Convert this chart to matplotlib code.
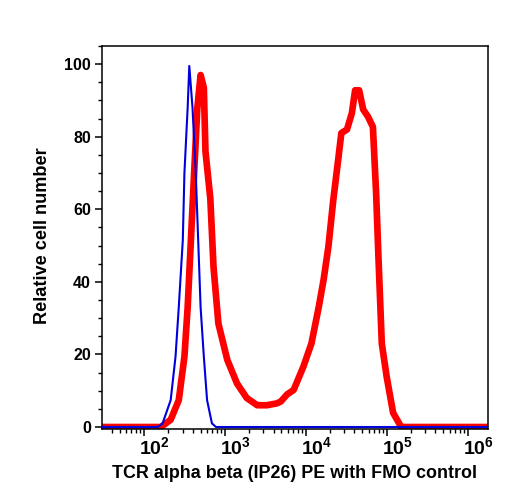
import matplotlib
matplotlib.use("Agg")
import matplotlib.pyplot as plt
import numpy as np
import matplotlib.transforms as mtransforms
from matplotlib.ticker import FixedLocator, LogLocator, NullFormatter, MultipleLocator

plt.rcParams['font.family'] = ['Liberation Sans', 'DejaVu Sans']
plt.rcParams['mathtext.fontset'] = 'custom'
plt.rcParams['mathtext.rm'] = 'Liberation Sans:bold'
plt.rcParams['mathtext.bf'] = 'Liberation Sans:bold'

# FMO control (blue): log10 intensity, relative count
fmo_log = [1.48, 2.0, 2.17, 2.23, 2.33, 2.39, 2.43, 2.48, 2.50, 2.54, 2.56, 2.60,
           2.64, 2.67, 2.70, 2.74, 2.78, 2.84, 2.89, 6.26]
fmo_val = [0, 0, 0, 1, 7.4, 19.4, 33, 51.5, 70, 88, 99.5, 88,
           70, 51.5, 33, 19.4, 7.4, 1, 0, 0]

# TCR alpha beta (red)
tcr_log = [1.48, 2.21, 2.33, 2.43, 2.50, 2.54, 2.58, 2.62, 2.66, 2.70, 2.74, 2.76,
           2.82, 2.86, 2.92, 3.03, 3.15, 3.27, 3.40, 3.52, 3.64, 3.69, 3.77, 3.85,
           3.97, 4.07, 4.16, 4.22, 4.28, 4.34, 4.40, 4.44, 4.51, 4.57, 4.61, 4.66,
           4.71, 4.77, 4.83, 4.87, 4.90, 4.94, 5.00, 5.08, 5.18, 6.26]
tcr_val = [0, 0, 2, 7.4, 19.4, 33, 51.5, 70, 88, 97, 93.5, 76,
           63, 44, 28.5, 18.5, 12, 8, 6, 6, 6.5, 7, 9, 10.2,
           16.6, 23, 33, 40.5, 49.7, 62.5, 73.5, 81, 82, 86.5, 92.8, 92.8,
           87.5, 85.5, 82.7, 64.4, 46, 23, 13.9, 3.9, 0, 0]

x_major = [1e2, 1e3, 1e4, 1e5, 1e6]
x_labels = [r'$\mathbf{10^{2}}$', r'$\mathbf{10^{3}}$', r'$\mathbf{10^{4}}$',
            r'$\mathbf{10^{5}}$', r'$\mathbf{10^{6}}$']
y_major = [0, 20, 40, 60, 80, 100]

fig = plt.figure(figsize=(5.08, 5.0), dpi=100)
W, H = 508, 500
ax = fig.add_axes([102 / W, (H - 429) / H, 386 / W, (429 - 46) / H])

ax.plot(10 ** np.array(tcr_log), tcr_val, color='#ff0000', lw=4.8,
        solid_joinstyle='round', zorder=2)
ax.plot(10 ** np.array(fmo_log), fmo_val, color='#0000dd', lw=1.5, zorder=3)

ax.set_xscale('log')
ax.set_xlim(10 ** 1.481, 10 ** 6.253)
ax.set_ylim(-0.55, 105)

ax.xaxis.set_major_locator(FixedLocator(x_major))
ax.xaxis.set_minor_locator(LogLocator(base=10, subs=np.arange(2, 10)))
ax.xaxis.set_major_formatter(NullFormatter())
ax.xaxis.set_minor_formatter(NullFormatter())
ax.yaxis.set_minor_locator(MultipleLocator(5))
ax.set_yticks(y_major)
ax.set_yticklabels([str(v) for v in y_major], fontweight='bold', fontsize=11.5)

ax.tick_params(axis='both', which='major', direction='out', length=5, width=1.1)
ax.tick_params(axis='both', which='minor', direction='out', length=3, width=1.0)
ax.tick_params(axis='y', pad=3)

for sp in ax.spines.values():
    sp.set_linewidth(1.1)

trans = mtransforms.blended_transform_factory(ax.transData, ax.transAxes)
offset = mtransforms.ScaledTranslation(-5 / 100, 0, fig.dpi_scale_trans)
for xv, lab in zip(x_major, x_labels):
    ax.text(xv, -0.018, lab, transform=trans + offset, ha='left', va='top',
            fontsize=14)

fig.text(295 / W, (H - 474) / H, 'TCR alpha beta (IP26) PE with FMO control',
         ha='center', va='center', fontsize=12.9, fontweight='bold')
fig.text(43 / W, (H - 235.5) / H, 'Relative cell number', rotation=90,
         ha='center', va='center', fontsize=13.1, fontweight='bold')

fig.savefig('out.png', dpi=100)
